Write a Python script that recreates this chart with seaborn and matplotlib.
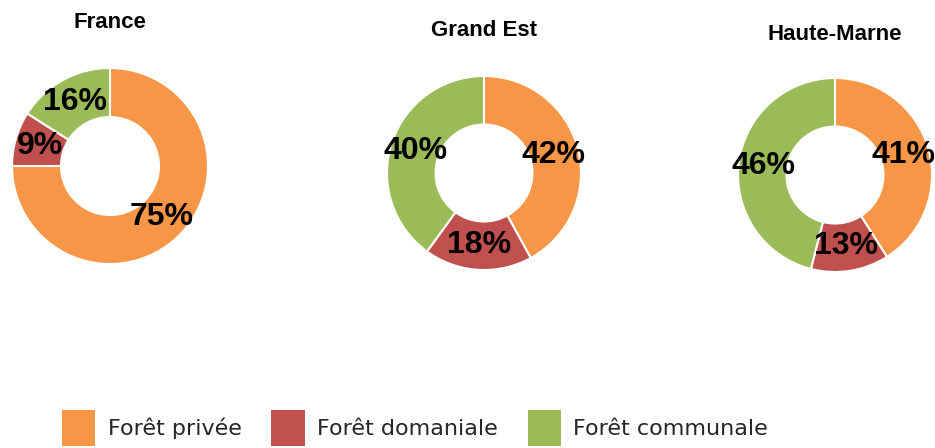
import matplotlib
matplotlib.use("Agg")
import matplotlib.pyplot as plt
import seaborn as sns
from matplotlib.patches import Patch

sns.set_theme(style="white")
plt.rcParams['font.family'] = ['Liberation Sans', 'DejaVu Sans']

# Data
regions = ["France", "Grand Est", "Haute-Marne"]
categories = ["Forêt privée", "Forêt domaniale", "Forêt communale"]
france = [75, 9, 16]
grand_est = [42, 18, 40]
haute_marne = [41, 13, 46]
series = [france, grand_est, haute_marne]

colors = ["#F79646", "#C0504D", "#9BBB59"]

W, H = 935, 448
fig = plt.figure(figsize=(W / 100, H / 100), dpi=100)
fig.patch.set_facecolor("white")

# (center x px, center y px from top, radius px, title y px from top)
layout = [(110, 166, 98, 23), (484, 173, 97, 31), (835, 175, 97, 34)]

for name, vals, (cx, cy, r, ty) in zip(regions, series, layout):
    ax = fig.add_axes([(cx - r) / W, (H - cy - r) / H, 2 * r / W, 2 * r / H])
    wedges, texts, autotexts = ax.pie(
        vals, colors=colors, startangle=90, counterclock=False,
        autopct=lambda p: f"{round(p)}%", pctdistance=0.74,
        wedgeprops=dict(width=0.5, edgecolor="white", linewidth=1.5),
        textprops=dict(fontsize=23, fontweight="bold", color="black"),
    )
    ax.set_xlim(-1, 1)
    ax.set_ylim(-1, 1)
    ax.set_aspect("equal")
    ax.axis("off")
    fig.text(cx / W, 1 - ty / H, name, ha="center", va="center",
             fontsize=16, fontweight="bold", color="black")

handles = [Patch(facecolor=c, edgecolor="none") for c in colors]
leg = fig.legend(handles, categories, loc="center left",
                 bbox_to_anchor=(62 / W, 1 - 428 / H), ncol=3, frameon=False,
                 prop=dict(family="DejaVu Sans", size=16),
                 handlelength=1.5, handleheight=2.1,
                 handletextpad=0.55, columnspacing=1.35, borderpad=0,
                 borderaxespad=0)
for t in leg.get_texts():
    t.set_color("#262626")

fig.savefig("out.png", dpi=100, facecolor="white")
